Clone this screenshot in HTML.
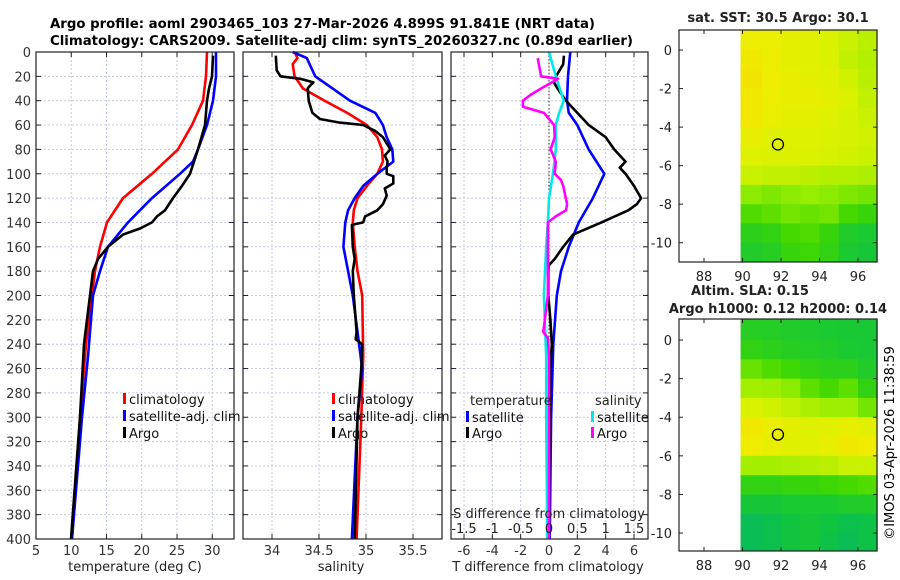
<!DOCTYPE html>
<html><head><meta charset="utf-8">
<style>
html,body{margin:0;padding:0;background:#fff;}
svg{display:block;font-family:"DejaVu Sans","Liberation Sans",sans-serif;}
</style></head>
<body>
<svg id="fig" width="900" height="580" viewBox="0 0 900 580" xmlns="http://www.w3.org/2000/svg">
<g font-weight="bold" font-size="13" fill="#000">
<text x="50" y="28" textLength="545" lengthAdjust="spacingAndGlyphs">Argo profile: aoml 2903465_103 27-Mar-2026 4.899S 91.841E (NRT data)</text>
<text x="50" y="45" textLength="583" lengthAdjust="spacingAndGlyphs">Climatology: CARS2009. Satellite-adj clim: synTS_20260327.nc (0.89d earlier)</text>
</g>
<g id="layer"></g>
<text x="0" y="0" font-size="13" fill="#000" transform="translate(894,443) rotate(-90)" text-anchor="middle">©IMOS 03-Apr-2026 11:38:59</text>
</svg>
<script>
// ---------- DATA ----------
const tempClimDepth = [0,20,40,60,80,100,120,140,160,180,200,240,300,400];
const tempClim = [29.26,29.11,28.69,27.13,25.14,21.45,17.34,15.07,14.08,13.37,12.94,12.09,11.24,10.11];
const tempSatDepth = [0,20,40,60,80,90,100,120,140,150,160,180,200,250,300,400];
const tempSat = [30.53,30.53,30.11,29.26,27.98,27.27,25.43,21.45,18.05,16.63,15.21,14.08,13.09,12.38,11.52,10.11];
const tempArgoDepth = [3,20,30,40,60,80,100,110,120,130,135,140,145,150,160,170,180,200,240,300,400];
const tempArgo = [30.11,29.96,29.54,29.26,28.97,27.98,26.84,25.71,24.43,23.30,22.16,21.45,19.75,17.34,15.21,13.79,13.09,12.66,11.81,11.24,9.96];

const salClimDepth = [0,5,10,20,30,40,50,60,70,80,90,100,110,120,130,140,160,180,200,250,300,400];
const salClim = [34.24,34.27,34.22,34.24,34.33,34.56,34.80,35.01,35.12,35.17,35.18,35.12,35.01,34.91,34.87,34.86,34.88,34.91,34.96,34.97,34.95,34.90];
const salSatDepth = [0,5,20,40,50,60,70,80,90,100,110,120,130,140,160,180,200,260,300,400];
const salSat = [34.22,34.37,34.46,34.83,35.10,35.18,35.22,35.28,35.29,35.12,34.97,34.88,34.81,34.78,34.76,34.81,34.86,34.96,34.91,34.85];
const salArgoDepth = [3,15,20,22,25,28,30,40,50,55,58,60,65,70,80,85,90,95,100,102,108,112,118,125,130,135,140,142,160,170,180,200,230,236,240,260,300,400];
const salArgo = [34.04,34.05,34.09,34.30,34.44,34.40,34.38,34.39,34.43,34.51,34.72,34.97,35.10,35.18,35.26,35.20,35.23,35.22,35.22,35.29,35.29,35.20,35.22,35.18,35.12,34.99,34.97,34.85,34.86,34.88,34.86,34.87,34.90,34.89,34.96,34.95,34.91,34.88];

const dTSatDepth = [0,20,40,50,60,80,100,120,140,160,180,200,240,300,400];
const dTSat = [1.5,1.34,1.27,1.4,2.0,2.8,3.9,3.1,2.1,1.4,0.85,0.55,0.3,0.15,0.05];
const dTArgoDepth = [3,10,20,25,30,40,60,70,80,90,95,100,110,120,125,130,140,150,160,170,175,180,200,220,240,260,300,400];
const dTArgo = [1.05,1.0,0.5,0.35,0.6,1.2,2.8,4.0,4.6,5.4,5.0,5.4,6.0,6.5,6.2,5.6,3.7,1.7,1.0,0.4,0,-0.05,-0.05,0.1,0.2,0.1,0.05,0];
const dSSatDepth = [0,20,40,50,60,80,100,120,140,160,200,250,300,400];
const dSSat = [0,0.12,0.26,0.18,0.12,0.12,0.07,0,-0.02,-0.05,-0.09,-0.05,-0.05,-0.03];
const dSArgoDepth = [5,10,20,22,30,35,40,45,50,60,70,80,90,100,105,110,125,130,135,140,160,200,230,235,250,300,400];
const dSArgo = [-0.2,-0.18,-0.14,0.16,-0.14,-0.32,-0.46,-0.46,-0.09,0.09,0.1,0.03,0.12,0.1,0.21,0.25,0.32,0.3,0.12,-0.02,-0.02,-0.02,-0.1,-0.02,0,0,0];

const depthTicks = [0,20,40,60,80,100,120,140,160,180,200,220,240,260,280,300,320,340,360,380,400];
const tempTicks = [5,10,15,20,25,30];
const salTicks = [34,34.5,35,35.5];
const dTTicks = [-6,-4,-2,0,2,4,6];
const dSTicks = [-1.5,-1,-0.5,0,0.5,1,1.5];
const dSTickLabels = ['-1.5','-1','-0.5','0','0.5','1','1.5'];

const mapLonTicks = [88,90,92,94,96];
const mapLatTicks = [0,-2,-4,-6,-8,-10];
const gridLons = [89.9,91,92,93,94,95,96,97];   // cell edges
const gridLats = [1.2,0,-1,-2,-3,-4,-5,-6,-7,-8,-9,-10,-11.1]; // cell edges
// normalised SST (0 = cool green, 1 = warm orange), rows north->south
const sstGrid = [
 [0.82,0.80,0.76,0.74,0.70,0.64,0.60],
 [0.86,0.82,0.76,0.74,0.70,0.62,0.58],
 [0.88,0.84,0.78,0.76,0.74,0.66,0.60],
 [0.86,0.82,0.78,0.78,0.76,0.70,0.62],
 [0.86,0.80,0.76,0.76,0.72,0.68,0.64],
 [0.78,0.74,0.72,0.72,0.70,0.68,0.66],
 [0.72,0.70,0.70,0.70,0.68,0.66,0.64],
 [0.64,0.62,0.62,0.60,0.58,0.58,0.56],
 [0.48,0.46,0.48,0.50,0.48,0.46,0.44],
 [0.38,0.40,0.44,0.42,0.44,0.36,0.32],
 [0.28,0.30,0.36,0.38,0.32,0.24,0.22],
 [0.24,0.26,0.32,0.34,0.30,0.22,0.20]
];
const slaGrid = [
 [0.26,0.25,0.24,0.23,0.22,0.21,0.21],
 [0.30,0.28,0.26,0.25,0.24,0.22,0.21],
 [0.42,0.38,0.34,0.30,0.28,0.28,0.24],
 [0.54,0.52,0.48,0.40,0.36,0.40,0.30],
 [0.70,0.66,0.62,0.56,0.52,0.52,0.44],
 [0.86,0.80,0.76,0.72,0.74,0.78,0.74],
 [0.84,0.78,0.74,0.74,0.78,0.86,0.84],
 [0.54,0.54,0.56,0.58,0.60,0.64,0.64],
 [0.30,0.30,0.32,0.32,0.34,0.36,0.38],
 [0.20,0.20,0.22,0.22,0.22,0.24,0.24],
 [0.12,0.14,0.18,0.20,0.18,0.14,0.16],
 [0.12,0.14,0.18,0.20,0.16,0.12,0.16]
];
const argoLon = 91.841, argoLat = -4.899;

// ---------- helpers ----------
const NS = 'http://www.w3.org/2000/svg';
const layer = document.getElementById('layer');
function mk(tag, attrs, parent){ const e=document.createElementNS(NS,tag); for(const k in attrs) e.setAttribute(k,attrs[k]); (parent||layer).appendChild(e); return e; }
function lin(d0,d1,r0,r1){ return v => r0 + (v-d0)*(r1-r0)/(d1-d0); }

const Y0 = 52, Y1 = 539;
const yDepth = lin(0,400,Y0,Y1);

function profilePanel(name, x0, x1, xs, xTicks, xLabels, showDepthLabels){
  const g = mk('g',{});
  
  
  depthTicks.forEach(d=>{
    const l = mk('line',{x1:x0,x2:x1,y1:yDepth(d),y2:yDepth(d),stroke:'#c4c8e4','stroke-width':1,'stroke-dasharray':'2,2'},g);
    
    
    mk('line',{x1:x0,x2:x0+5,y1:yDepth(d),y2:yDepth(d),stroke:'#222'},g);
    mk('line',{x1:x1-5,x2:x1,y1:yDepth(d),y2:yDepth(d),stroke:'#222'},g);
    if(showDepthLabels){
      const t = mk('text',{x:31,y:yDepth(d)+5,'text-anchor':'end','font-size':13,fill:'#333'},g);
      t.textContent = d;
      
      
    }
  });
  xTicks.forEach((v,i)=>{
    const x = xs(v);
    const l = mk('line',{x1:x,x2:x,y1:Y0,y2:Y1,stroke:'#c4c8e4','stroke-width':1,'stroke-dasharray':'2,2'},g);
    
    
    mk('line',{x1:x,x2:x,y1:Y0,y2:Y0+5,stroke:'#222'},g);
    mk('line',{x1:x,x2:x,y1:Y1-5,y2:Y1,stroke:'#222'},g);
    const t = mk('text',{x:x,y:555,'text-anchor':'middle','font-size':13,fill:'#333'},g);
    t.textContent = xLabels[i];
    
    
  });
  return g;
}
function frame(g,x0,x1,y0,y1){
  const r = mk('rect',{x:x0,y:y0,width:x1-x0,height:y1-y0,fill:'none',stroke:'#222','stroke-width':1.2},g);
  
  
}
function series(g, depths, vals, xs, color, name){
  let d='';
  depths.forEach((dp,i)=>{ d += (i?'L':'M') + xs(vals[i]).toFixed(1) + ',' + yDepth(dp).toFixed(1); });
  const p = mk('path',{d:d,fill:'none',stroke:color,'stroke-width':2.6,'stroke-linejoin':'round'},g);
  
  
}
function legendEntry(g,x,y,color,label,name){
  const r = mk('rect',{x:x,y:y-11,width:3,height:11,fill:color},g);
  const t = mk('text',{x:x+6,y:y,'font-size':13,fill:'#111'},g);
  t.textContent = label;
  
  
  
  
}
function label(g,x,y,txt,name,anchor,size){
  const t = mk('text',{x:x,y:y,'text-anchor':anchor||'middle','font-size':size||13,fill:'#222'},g);
  t.textContent = txt;
  
  
  return t;
}

// ---------- Panel 1: temperature ----------
const xT = lin(5,30,36,212.25);
const g1 = profilePanel('temperature-panel',36,234,xT,tempTicks,tempTicks.map(String),true);
series(g1,tempClimDepth,tempClim,xT,'#ff0000','temp-climatology-line');
series(g1,tempSatDepth,tempSat,xT,'#0000ff','temp-satellite-line');
series(g1,tempArgoDepth,tempArgo,xT,'#000000','temp-argo-line');
frame(g1,36,234,Y0,Y1);
legendEntry(g1,123,404,'#ff0000','climatology','legend-climatology');
legendEntry(g1,123,421,'#0000ff','satellite-adj. clim','legend-satellite-adj');
legendEntry(g1,123,438,'#000000','Argo','legend-argo');
label(g1,135,571,'temperature (deg C)','x-axis-title-temperature');

// ---------- Panel 2: salinity ----------
const xS = lin(34,35.5,272,413);
const g2 = profilePanel('salinity-panel',243,442,xS,salTicks,salTicks.map(String),false);
series(g2,salClimDepth,salClim,xS,'#ff0000','sal-climatology-line');
series(g2,salSatDepth,salSat,xS,'#0000ff','sal-satellite-line');
series(g2,salArgoDepth,salArgo,xS,'#000000','sal-argo-line');
frame(g2,243,442,Y0,Y1);
legendEntry(g2,332,404,'#ff0000','climatology','legend-climatology');
legendEntry(g2,332,421,'#0000ff','satellite-adj. clim','legend-satellite-adj');
legendEntry(g2,332,438,'#000000','Argo','legend-argo');
label(g2,341,571,'salinity','x-axis-title-salinity');

// ---------- Panel 3: differences ----------
const xD = lin(-6,6,464,634);
const xDS = lin(-1.5,1.5,464,634);
const g3 = profilePanel('difference-panel',451,648,xD,dTTicks,dTTicks.map(String),false);
const zl = mk('line',{x1:xD(0),x2:xD(0),y1:Y0,y2:Y1,stroke:'#333','stroke-width':1,'stroke-dasharray':'1.5,2'},g3);


series(g3,dTSatDepth,dTSat,xD,'#0000ff','dT-satellite-line');
series(g3,dTArgoDepth,dTArgo,xD,'#000000','dT-argo-line');
series(g3,dSSatDepth,dSSat,xDS,'#00e8e8','dS-satellite-line');
series(g3,dSArgoDepth,dSArgo,xDS,'#ff00ff','dS-argo-line');
frame(g3,451,648,Y0,Y1);
label(g3,470,405,'temperature','legend-title-temperature','start');
legendEntry(g3,466,422,'#0000ff','satellite','legend-dT-satellite');
legendEntry(g3,466,438,'#000000','Argo','legend-dT-argo');
label(g3,595,405,'salinity','legend-title-salinity','start');
legendEntry(g3,591,422,'#00e8e8','satellite','legend-dS-satellite');
legendEntry(g3,591,438,'#ff00ff','Argo','legend-dS-argo');
label(g3,549,518,'S difference from climatology','s-axis-title');
dSTicks.forEach((v,i)=>{ label(g3,xDS(v),533,dSTickLabels[i],'s-tick-label'); });
label(g3,548,571,'T difference from climatology','x-axis-title-difference');

// ---------- Maps ----------
const cmapStops = [[0,[0,176,128]],[0.18,[16,196,64]],[0.35,[64,216,0]],[0.5,[150,238,0]],[0.68,[215,242,0]],[0.84,[240,236,0]],[1,[250,200,0]]];
function cmap(v){
  for(let i=1;i<cmapStops.length;i++){
    if(v<=cmapStops[i][0]){
      const [a,ca]=cmapStops[i-1],[b,cb]=cmapStops[i]; const t=(v-a)/(b-a);
      return 'rgb('+ca.map((c,k)=>Math.round(c+(cb[k]-c)*t)).join(',')+')';
    }
  }
  return 'rgb(250,200,0)';
}
function mapPanel(name, y0, y1, latTop, latBot, grid, titles){
  const g = mk('g',{});
  
  
  const x0=679,x1=877;
  const xl = lin(88,96,704,858);
  const yl = lin(latTop,latBot,y0,y1);
  grid.forEach((row,r)=>{
    row.forEach((v,c)=>{
      const xa=xl(gridLons[c]), xb=xl(gridLons[c+1]);
      const ya=Math.max(y0,yl(gridLats[r])), yb=Math.min(y1,yl(gridLats[r+1]));
      const cell = mk('rect',{x:xa,y:ya,width:xb-xa+0.5,height:yb-ya+0.5,fill:cmap(v)},g);
      
      
    });
  });
  frame(g,x0,x1,y0,y1);
  mapLonTicks.forEach(v=>{
    mk('line',{x1:xl(v),x2:xl(v),y1:y0,y2:y0+4,stroke:'#222'},g);
    mk('line',{x1:xl(v),x2:xl(v),y1:y1-4,y2:y1,stroke:'#222'},g);
    label(g,xl(v),y1+19,String(v),'lon-tick-label');
  });
  mapLatTicks.forEach(v=>{
    mk('line',{x1:x0,x2:x0+4,y1:yl(v),y2:yl(v),stroke:'#222'},g);
    mk('line',{x1:x1-4,x2:x1,y1:yl(v),y2:yl(v),stroke:'#222'},g);
    label(g,672,yl(v)+5,String(v),'lat-tick-label','end');
  });
  const c = mk('circle',{cx:xl(argoLon),cy:yl(argoLat),r:5.5,fill:'none',stroke:'#000','stroke-width':1.3},g);
  
  
  titles.forEach(t=>{ const e=label(g,t[0],t[1],t[2],t[3]); e.setAttribute('font-weight','bold'); });
}
mapPanel('sst-map',30,262,1.04,-11.0,sstGrid,[[778,22,'sat. SST: 30.5 Argo: 30.1','sst-map-title']]);
mapPanel('sla-map',319,551,1.09,-10.93,slaGrid,[[750,295,'Altim. SLA: 0.15','sla-map-title'],[778,313,'Argo h1000: 0.12 h2000: 0.14','sla-map-subtitle']]);
</script>
</body></html>
